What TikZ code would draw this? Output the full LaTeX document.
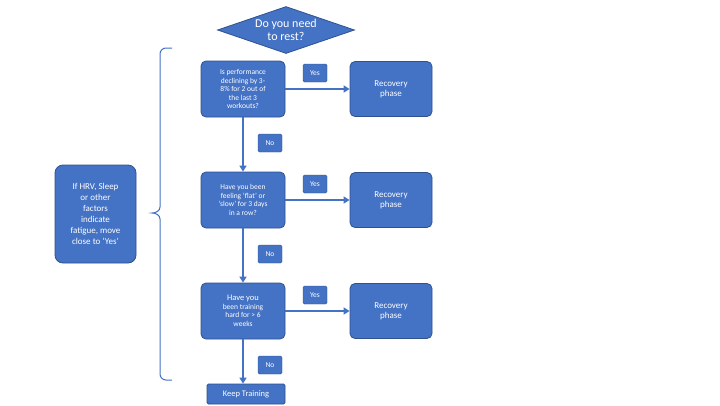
\documentclass[tikz,border=0pt]{standalone}
\usepackage{fontspec}
\setmainfont{Carlito}
\usetikzlibrary{shapes.geometric,arrows.meta}
\definecolor{bfill}{HTML}{4472C4}
\definecolor{bedge}{HTML}{2F528F}
\begin{document}
\begin{tikzpicture}[x=1pt,y=-1pt,
  box/.style={draw=bedge,fill=bfill,rounded corners=5pt,text=white,align=center,inner sep=1pt,line width=0.8pt},
  lab/.style={draw=bedge,fill=bfill,rounded corners=1.5pt,text=white,font=\fontsize{7.5}{8}\selectfont,minimum width=24,minimum height=18,inner sep=0pt},
  arr/.style={draw=bfill,line width=2pt,-{Triangle[length=6pt,width=7pt]}}]
\useasboundingbox[fill=white] (0,0) rectangle (720,405);
\node[diamond,aspect=3.1,draw=bedge,fill=bfill,text=white,align=center,inner sep=0pt,minimum width=137,minimum height=47,font=\fontsize{12}{12.5}\selectfont,line width=0.8pt] (q) at (286,30) {Do you need\\to rest?};
\foreach \i/\y/\t in {1/89/{Is performance\\declining by 3-\\8\% for 2 out of\\the last 3\\workouts?},
  2/200/{Have you been\\feeling `flat' or\\`slow' for 3 days\\in a row?},
  3/311/{\fontsize{8.5}{9.5}\selectfont Have you\\been training\\hard for > 6\\weeks}}{
  \node[box,minimum width=84,minimum height=56,font=\fontsize{7.5}{8.5}\selectfont] (b\i) at (243,\y) {\t};
  \node[box,minimum width=82,minimum height=55,font=\fontsize{9}{10}\selectfont] (r\i) at (391,\y) {Recovery\\phase};
  \node[lab] (y\i) at (315,\y-16) {Yes};
  \node[lab] (n\i) at (270,\y+54) {No};
  \draw[arr] (b\i) -- (r\i);
}
\node[box,rounded corners=1.5pt,minimum width=78,minimum height=20,font=\fontsize{8.5}{9}\selectfont] (k) at (246,394) {Keep Training};
\draw[arr] (b1.south) -- (b2.north);
\draw[arr] (b2.south) -- (b3.north);
\draw[arr] (b3.south) -- (b3.south|-k.north);
\node[box,rounded corners=8pt,minimum width=81,minimum height=98,font=\fontsize{9}{11}\selectfont] (h) at (95.5,214) {If HRV, Sleep\\or other\\factors\\indicate\\fatigue, move\\close to `Yes'};
\draw[bfill,line width=1pt] (172,48) -- (166,48) to[out=180,in=90] (160,54) -- (160,207) to[out=-90,in=0] (152,213) coordinate (tip) to[out=0,in=90] (160,219) -- (160,374) to[out=-90,in=180] (166,380) -- (172,380);
\end{tikzpicture}
\end{document}
